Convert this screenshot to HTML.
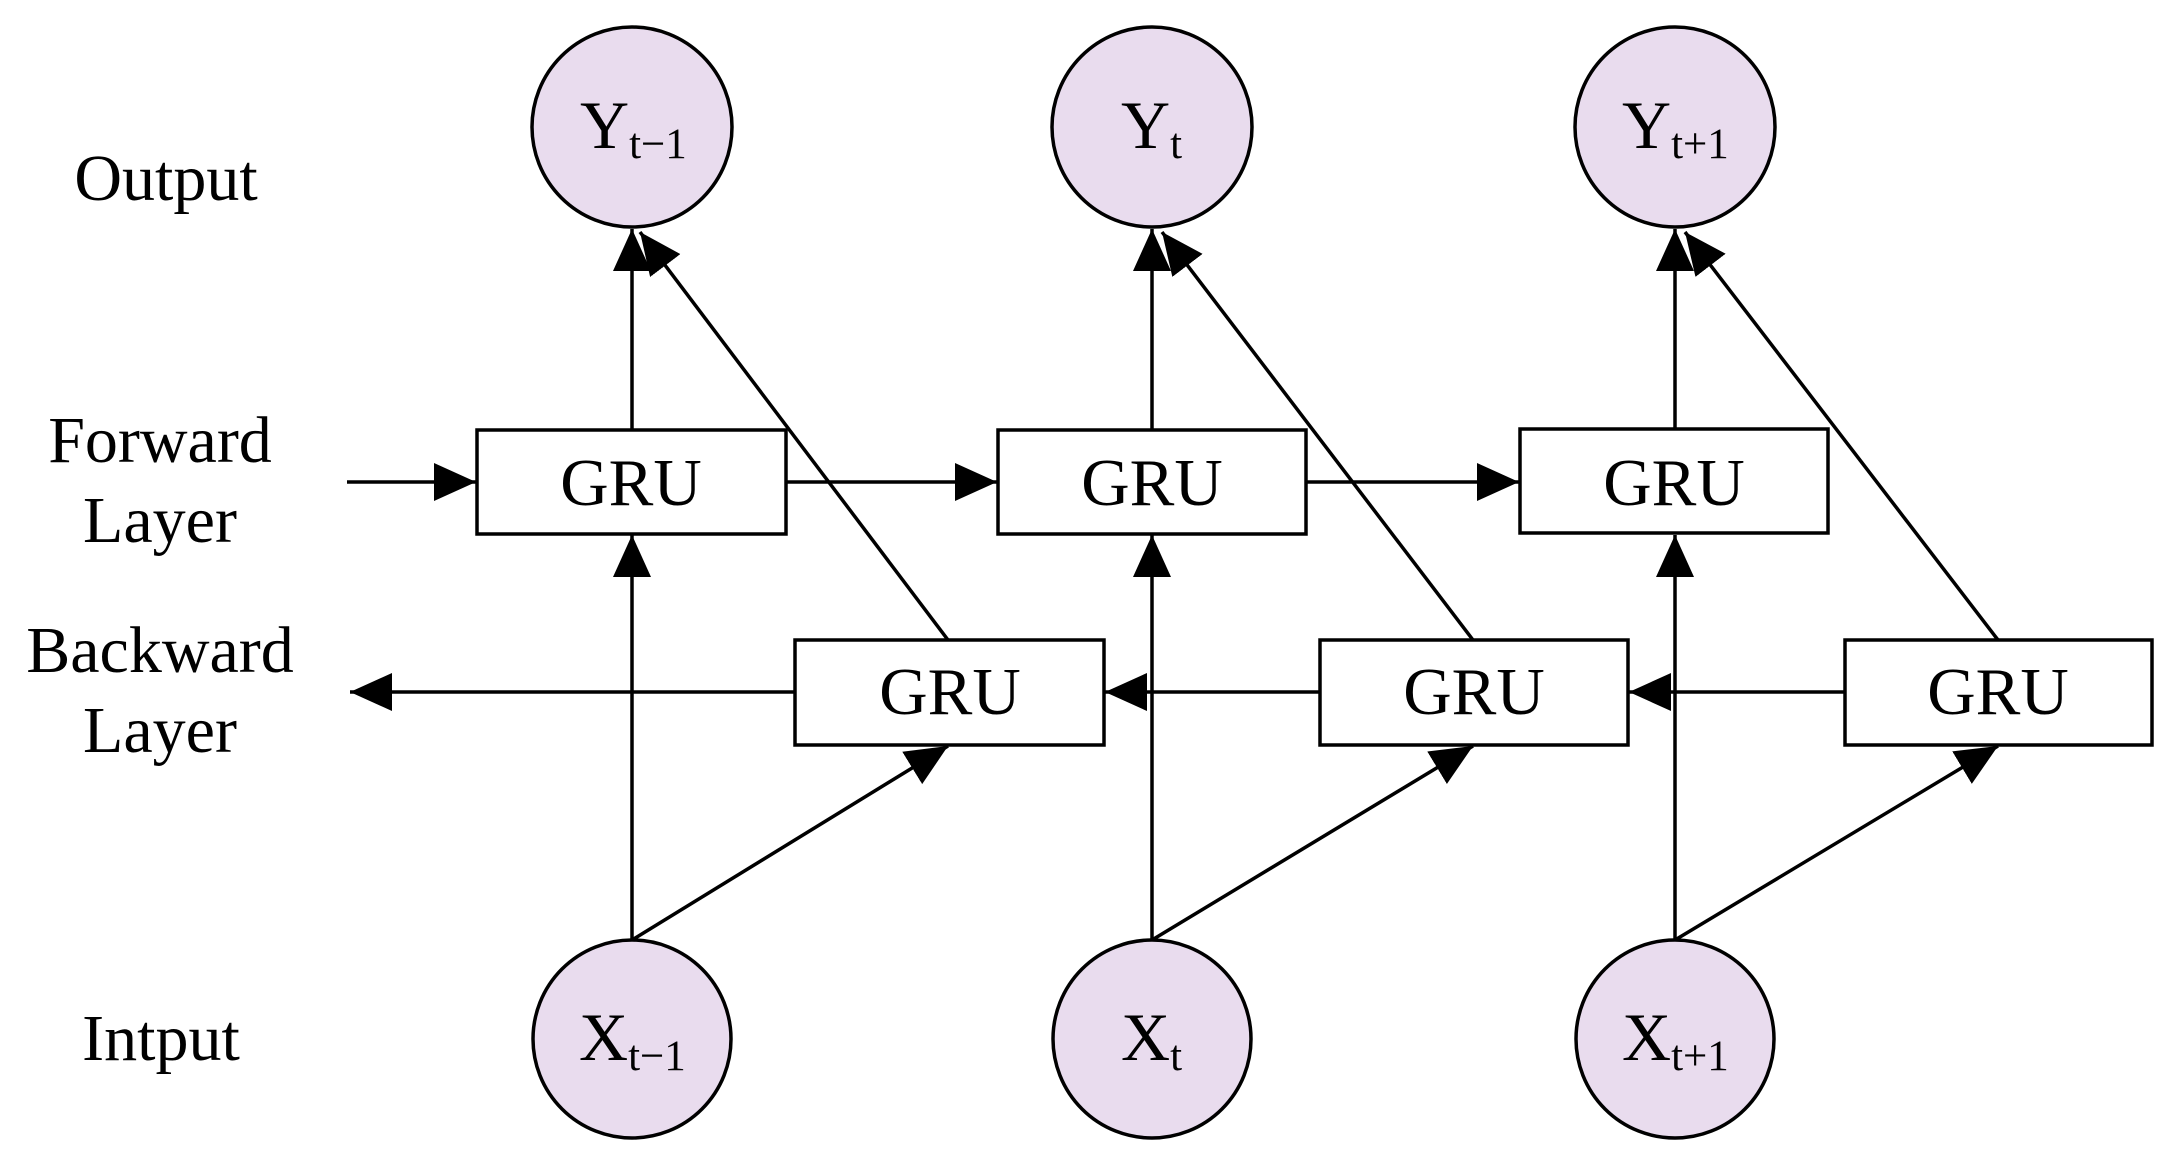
<!DOCTYPE html>
<html><head><meta charset="utf-8"><style>
html,body{margin:0;padding:0;background:#fff;}
svg{display:block;}
text{font-family:"Liberation Serif",serif;fill:#000;}
</style></head><body>
<svg width="2173" height="1170" viewBox="0 0 2173 1170" xmlns="http://www.w3.org/2000/svg">
<defs>
<marker id="a" markerUnits="userSpaceOnUse" markerWidth="42" markerHeight="42" viewBox="0 0 42 42" refX="42" refY="21" orient="auto">
<path d="M0,2 L42,21 L0,40 Z" fill="#000"/>
</marker>
</defs>
<g stroke="#000" stroke-width="3.5" fill="none">
<line x1="347" y1="482" x2="476" y2="482" marker-end="url(#a)"/>
<line x1="786" y1="482" x2="997" y2="482" marker-end="url(#a)"/>
<line x1="1306" y1="482" x2="1519" y2="482" marker-end="url(#a)"/>
<line x1="794" y1="692" x2="350" y2="692" marker-end="url(#a)"/>
<line x1="1319" y1="692" x2="1105" y2="692" marker-end="url(#a)"/>
<line x1="1844" y1="692" x2="1629" y2="692" marker-end="url(#a)"/>
<line x1="632" y1="940" x2="632" y2="535" marker-end="url(#a)"/>
<line x1="1152" y1="940" x2="1152" y2="535" marker-end="url(#a)"/>
<line x1="1675" y1="940" x2="1675" y2="535" marker-end="url(#a)"/>
<line x1="632" y1="430" x2="632" y2="229" marker-end="url(#a)"/>
<line x1="1152" y1="430" x2="1152" y2="229" marker-end="url(#a)"/>
<line x1="1675" y1="430" x2="1675" y2="229" marker-end="url(#a)"/>
<line x1="632" y1="940" x2="948" y2="746" marker-end="url(#a)"/>
<line x1="1152" y1="940" x2="1473" y2="746" marker-end="url(#a)"/>
<line x1="1675" y1="940" x2="1998" y2="746" marker-end="url(#a)"/>
<line x1="948" y1="640" x2="640" y2="232" marker-end="url(#a)"/>
<line x1="1473" y1="640" x2="1162" y2="232" marker-end="url(#a)"/>
<line x1="1998" y1="640" x2="1685" y2="232" marker-end="url(#a)"/>
</g>
<g stroke="#000" stroke-width="3.5" fill="#fff">
<rect x="477" y="430" width="309" height="104"/>
<rect x="998" y="430" width="308" height="104"/>
<rect x="1520" y="429" width="308" height="104"/>
<rect x="795" y="640" width="309" height="105"/>
<rect x="1320" y="640" width="308" height="105"/>
<rect x="1845" y="640" width="307" height="105"/>
</g>
<g stroke="#000" stroke-width="3.5" fill="#e9dcee">
<circle cx="632" cy="127" r="100"/>
<circle cx="1152" cy="127" r="100"/>
<circle cx="1675" cy="127" r="100"/>
<circle cx="632" cy="1039" r="99"/>
<circle cx="1152" cy="1039" r="99"/>
<circle cx="1675" cy="1039" r="99"/>
</g>
<g font-size="67" text-anchor="middle">
<text x="631" y="505">GRU</text>
<text x="1152" y="505">GRU</text>
<text x="1674" y="505">GRU</text>
<text x="950" y="714">GRU</text>
<text x="1474" y="714">GRU</text>
<text x="1998" y="714">GRU</text>
</g>
<g font-size="66" text-anchor="middle">
<text x="166" y="200">Output</text>
<text x="160" y="462">Forward</text>
<text x="160" y="542">Layer</text>
<text x="160" y="672">Backward</text>
<text x="160" y="752">Layer</text>
<text x="161" y="1060">Intput</text>
</g>
<g font-size="68">
<text x="580" y="148">Y<tspan font-size="43" dy="10">t−1</tspan></text>
<text x="1121" y="148">Y<tspan font-size="43" dy="10">t</tspan></text>
<text x="1622" y="148">Y<tspan font-size="43" dy="10">t+1</tspan></text>
<text x="579" y="1060">X<tspan font-size="43" dy="10">t−1</tspan></text>
<text x="1121" y="1060">X<tspan font-size="43" dy="10">t</tspan></text>
<text x="1622" y="1060">X<tspan font-size="43" dy="10">t+1</tspan></text>
</g>
</svg>
</body></html>
